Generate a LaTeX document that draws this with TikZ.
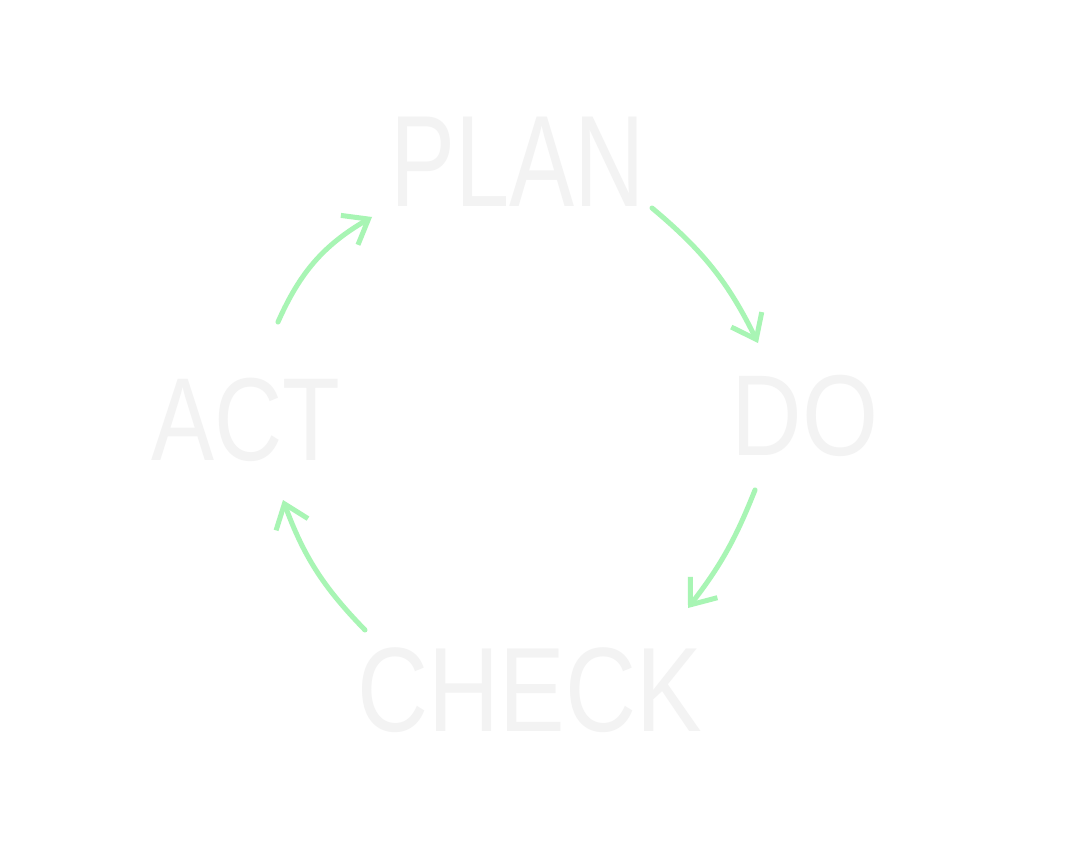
\documentclass[tikz,border=0pt]{standalone}
\usepackage{fontspec}
\setmainfont{Liberation Sans}
\usetikzlibrary{arrows.meta}
\definecolor{chalk}{HTML}{F3F3F3}
\definecolor{grn}{HTML}{A8F5B4}
\begin{document}
\begin{tikzpicture}[x=1pt,y=-1pt,
  word/.style={text=chalk,font=\fontsize{130}{130}\selectfont,inner sep=0pt,anchor=center},
  arr/.style={draw=grn,line width=5pt,line cap=round,-{Straight Barb[length=22pt,width=34pt,line width=5pt]}}]
\useasboundingbox[fill=white] (0,0) rectangle (1080,864);
\node[word,xscale=0.75] (plan) at (518,162) {PLAN};
\node[word,xscale=0.85,font=\fontsize{115}{115}\selectfont] (do) at (805,416) {DO};
\node[word,xscale=0.8,font=\fontsize{118}{118}\selectfont] (act) at (246,420) {ACT};
\node[word,xscale=0.82,font=\fontsize{120}{120}\selectfont] (check) at (530,690) {CHECK};
\coordinate (a1s) at (278,322); \coordinate (a1e) at (372,217);
\coordinate (a2s) at (652,208); \coordinate (a2e) at (758,343);
\coordinate (a3s) at (755,490); \coordinate (a3e) at (688,608);
\coordinate (a4s) at (365,630); \coordinate (a4e) at (283,500);
\draw[arr] (a1s) to[bend left=18] (a1e);
\draw[arr] (a2s) to[bend left=12] (a2e);
\draw[arr] (a3s) to[bend left=8] (a3e);
\draw[arr] (a4s) to[bend left=12] (a4e);
\end{tikzpicture}
\end{document}
